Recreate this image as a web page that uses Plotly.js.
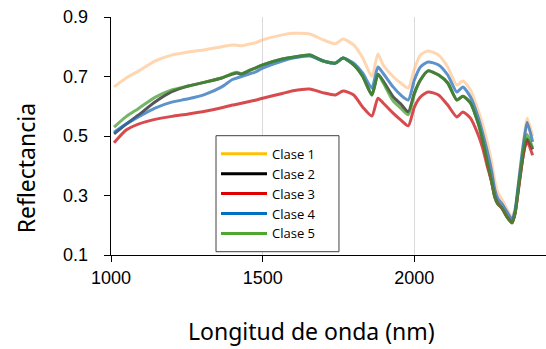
<!DOCTYPE html>
<html>
<head>
<meta charset="utf-8">
<script src="https://cdn.plot.ly/plotly-3.0.1.min.js"></script>
<style>html,body{margin:0;padding:0;background:#fff;}#chart{width:546px;height:349px;}</style>
</head>
<body>
<div id="chart"></div>
<script>
const wavelength = [1010,1050,1090,1145,1200,1255,1310,1365,1400,1415,1430,1460,1475,1500,1565,1600,1655,1700,1740,1765,1800,1830,1860,1880,1897,1930,1955,1980,2000,2020,2045,2080,2110,2140,2160,2185,2210,2225,2240,2255,2265,2275,2290,2305,2322,2332,2342,2355,2365,2372,2390];

const clase1 = [0.665,0.695,0.718,0.752,0.772,0.782,0.790,0.800,0.806,0.805,0.803,0.810,0.813,0.823,0.840,0.845,0.843,0.823,0.810,0.826,0.806,0.762,0.700,0.776,0.739,0.700,0.678,0.661,0.725,0.772,0.786,0.772,0.732,0.671,0.685,0.655,0.587,0.540,0.480,0.410,0.350,0.310,0.285,0.255,0.228,0.255,0.330,0.440,0.520,0.560,0.500];
const clase2 = [0.507,0.540,0.570,0.614,0.649,0.668,0.681,0.695,0.708,0.712,0.708,0.722,0.728,0.739,0.759,0.765,0.772,0.752,0.745,0.762,0.739,0.700,0.638,0.708,0.685,0.632,0.608,0.581,0.644,0.688,0.719,0.705,0.678,0.621,0.634,0.611,0.544,0.487,0.415,0.345,0.295,0.272,0.256,0.228,0.208,0.240,0.315,0.410,0.470,0.490,0.455];
const clase3 = [0.477,0.520,0.540,0.556,0.566,0.574,0.583,0.595,0.604,0.607,0.610,0.617,0.620,0.627,0.643,0.652,0.658,0.645,0.638,0.651,0.638,0.597,0.567,0.627,0.611,0.577,0.554,0.534,0.597,0.631,0.648,0.638,0.604,0.564,0.581,0.560,0.505,0.460,0.400,0.345,0.300,0.275,0.255,0.230,0.212,0.240,0.310,0.410,0.465,0.480,0.435];
const clase4 = [0.513,0.540,0.564,0.594,0.614,0.625,0.640,0.665,0.690,0.695,0.700,0.710,0.715,0.728,0.752,0.762,0.769,0.752,0.745,0.762,0.745,0.711,0.661,0.732,0.711,0.665,0.638,0.621,0.688,0.732,0.749,0.739,0.705,0.648,0.665,0.631,0.564,0.510,0.450,0.380,0.320,0.290,0.270,0.245,0.220,0.250,0.330,0.440,0.510,0.545,0.480];
const clase5 = [0.530,0.565,0.592,0.630,0.655,0.668,0.681,0.695,0.710,0.714,0.710,0.722,0.728,0.739,0.759,0.765,0.772,0.752,0.745,0.762,0.739,0.700,0.638,0.708,0.680,0.618,0.594,0.571,0.640,0.688,0.719,0.705,0.678,0.621,0.634,0.611,0.544,0.487,0.415,0.345,0.295,0.272,0.256,0.228,0.208,0.240,0.318,0.420,0.485,0.505,0.460];

const seriesNames = ['Clase 1','Clase 2','Clase 3','Clase 4','Clase 5'];
const seriesValues = [clase1, clase2, clase3, clase4, clase5];
const plotColors = ['rgba(255,180,110,0.55)','rgba(30,30,30,0.75)','rgba(205,30,35,0.8)','rgba(40,110,185,0.75)','rgba(60,150,40,0.7)'];
const legendColors = ['#FFC000','#000000','#E00000','#0070C0','#4EA72E'];

const yTicks = [0.1,0.3,0.5,0.7,0.9];
const xTicks = [1000,1500,2000];

const traces = [];
seriesValues.forEach((vals, i) => {
  traces.push({x: wavelength, y: vals, type: 'scatter', mode: 'lines', name: seriesNames[i],
    line: {color: plotColors[i], width: 3, shape: 'spline', smoothing: 0.6}, showlegend: false, hoverinfo: 'skip'});
});
seriesNames.forEach((n, i) => {
  traces.push({x: [null], y: [null], type: 'scatter', mode: 'lines', name: n,
    line: {color: legendColors[i], width: 3}, showlegend: true});
});

const layout = {
  width: 546, height: 349,
  margin: {l: 111, r: 0, t: 17, b: 94, pad: 0},
  paper_bgcolor: '#fff', plot_bgcolor: '#fff',
  font: {family: 'Liberation Sans, Arial, sans-serif', color: '#000'},
  xaxis: {range: [1000, 2434], tickvals: xTicks, ticktext: xTicks.map(String),
    showgrid: true, gridcolor: '#d9d9d9', gridwidth: 1, zeroline: false,
    showline: true, linecolor: '#000', linewidth: 1.3, ticks: 'outside', ticklen: 6, tickcolor: '#000',
    tickfont: {size: 18, family: 'Liberation Sans, Arial, sans-serif'}, fixedrange: true},
  yaxis: {range: [0.1, 0.9], tickvals: yTicks, ticktext: yTicks.map(v => v.toFixed(1)),
    showgrid: false, zeroline: false,
    showline: true, linecolor: '#000', linewidth: 1.3, ticks: 'outside', ticklen: 6, tickcolor: '#000',
    tickfont: {size: 18, family: 'Liberation Sans, Arial, sans-serif'}, ticklabelstandoff: 12, fixedrange: true},
  legend: {x: 0.2414, y: 0.488, xanchor: 'left', yanchor: 'top', bgcolor: 'rgba(0,0,0,0)',
    borderwidth: 0, itemwidth: 46, font: {size: 13, family: 'Open Sans, sans-serif'}},
  shapes: [
    {type: 'rect', xref: 'paper', yref: 'paper', x0: 0.2414, x1: 0.5241, y0: 0.0139, y1: 0.5013,
     line: {color: '#404040', width: 1}, fillcolor: '#fff', layer: 'above'}
  ],
  annotations: [
    {text: 'Longitud de onda (nm)', xref: 'paper', yref: 'paper', x: 0.462, y: -0.318,
     xanchor: 'center', yanchor: 'middle', showarrow: false, font: {size: 23, family: 'Noto Sans, sans-serif'}},
    {text: 'Reflectancia', xref: 'paper', yref: 'paper', x: -0.196, y: 0.363,
     xanchor: 'center', yanchor: 'middle', showarrow: false, textangle: -90, font: {size: 23, family: 'Noto Sans, sans-serif'}}
  ]
};

Plotly.newPlot('chart', traces, layout, {displayModeBar: false, staticPlot: true});
</script>
</body>
</html>
